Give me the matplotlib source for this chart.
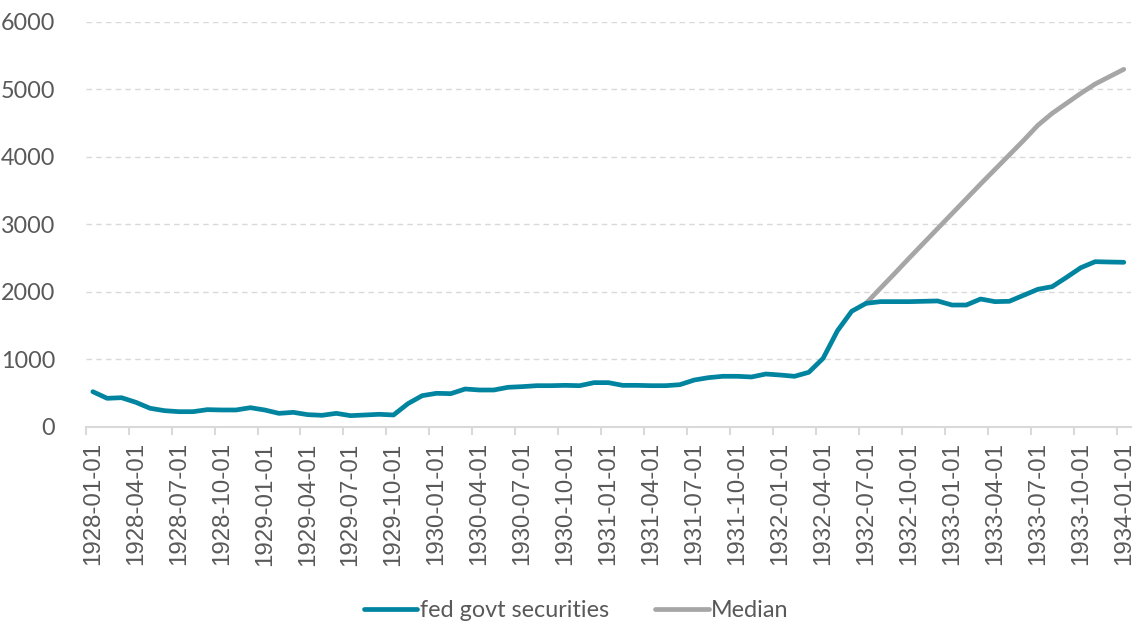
import numpy as np
import pandas as pd
import matplotlib
matplotlib.use("Agg")
import matplotlib.pyplot as plt

# monthly, 1928-01 .. 1934-01
dates = pd.date_range("1928-01-01", "1934-01-01", freq="MS")

fed_govt = [523, 425, 434, 366, 277, 242, 227, 227, 257, 252, 252, 286,
            252, 202, 217, 183, 173, 202, 168, 178, 188, 178, 345, 464,
            499, 494, 563, 548, 548, 588, 598, 612, 612, 617, 612, 657,
            657, 617, 617, 612, 612, 627, 696, 731, 751, 751, 741, 785,
            770, 751, 810, 1017, 1425, 1715, 1832, 1857, 1857, 1857, 1862, 1867,
            1807, 1807, 1896, 1857, 1862, 1951, 2040, 2079, 2217, 2360, 2449, 2444,
            2440]

# median path starts at 1932-07
median_start = 54
median = [1832, 2055, 2275, 2500, 2720, 2940, 3160, 3380, 3600, 3815, 4030, 4245,
          4470, 4647, 4795, 4943, 5081, 5190, 5299]

teal = "#00849f"
grey = "#a6a6a6"
txt = "#595959"

x = np.arange(len(dates))
xm = np.arange(median_start, median_start + len(median))

fig = plt.figure(figsize=(11.41, 6.26), dpi=100)
ax = fig.add_axes([0.0751, 0.3179, 0.9161, 0.647])

ax.plot(x, fed_govt, color=teal, lw=3.4, solid_capstyle="round", label="fed govt securities", zorder=3)
ax.plot(xm, median, color=grey, lw=3.4, solid_capstyle="round", label="Median", zorder=2)

ax.set_ylim(0, 6000)
ax.set_xlim(-0.5, 72.5)
ax.set_yticks(range(0, 6001, 1000))
ax.yaxis.grid(True, color="#d9d9d9", ls=(0, (4, 3)), lw=1)
ax.set_axisbelow(True)

ticks = x[::3]
ax.set_xticks(ticks)
ax.set_xticklabels([d.strftime("%Y-%m-%d") for d in dates[::3]], rotation=90,
                   family=["Liberation Sans", "DejaVu Sans"], fontsize=17.3, color=txt)
ax.set_xticks(np.arange(-0.5, 72, 3), minor=True)
ax.tick_params(axis="x", which="major", length=0, pad=11)
ax.tick_params(axis="x", which="minor", length=6, color="#d9d9d9", width=1.5)
ax.tick_params(axis="y", length=0, pad=22, labelsize=16.8, labelcolor=txt)
for lab in ax.get_yticklabels():
    lab.set_family(["Lato", "DejaVu Sans"])

for s in ["top", "right", "left"]:
    ax.spines[s].set_visible(False)
ax.spines["bottom"].set_color("#d9d9d9")
ax.spines["bottom"].set_linewidth(1.5)

leg = fig.legend(loc="center", bbox_to_anchor=(0.505, 0.024), ncol=2, frameon=False,
                 prop={"family": ["Lato", "DejaVu Sans"], "size": 16.8},
                 handlelength=2.3, handletextpad=0.1, columnspacing=2.0)
for t in leg.get_texts():
    t.set_color(txt)

fig.savefig("out.png", dpi=100)
